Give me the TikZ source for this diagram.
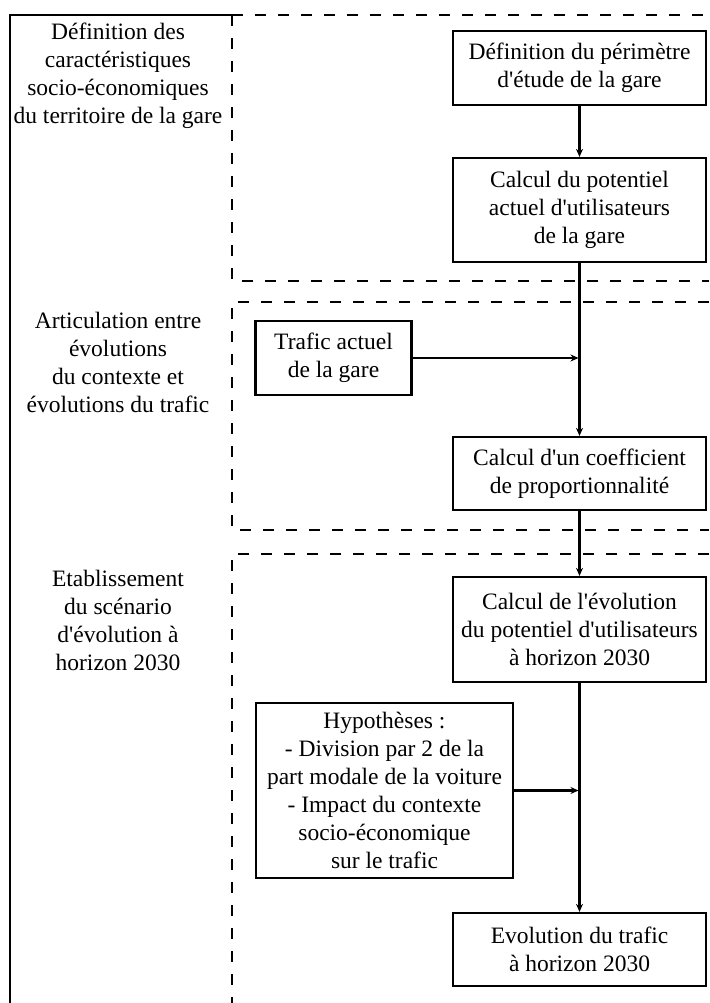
\documentclass[tikz,border=0pt]{standalone}
\usepackage{fontspec}
\setmainfont{Liberation Serif}[Ligatures=TeXOff]
\usetikzlibrary{arrows.meta,calc}
\begin{document}
\begin{tikzpicture}[x=1pt,y=-1pt,
  txt/.style={font=\fontsize{23.5}{28}\selectfont,align=center,inner sep=0pt},
  box/.style={txt,draw,line width=2.2pt,minimum width=253pt},
  frame/.style={line width=2.6pt},
  sep/.style={line width=2.6pt,dash pattern=on 11pt off 12pt},
  arr/.style={line width=2.2pt,-{Stealth[length=8pt,width=7pt]}}]
\useasboundingbox (0,0) rectangle (709,1003);
% frame
\draw[frame] (10,1003) -- (10,15) -- (232,15);
\draw[sep] (232,15) -- (709,15);
\draw[sep] (232,15) -- (232,281) -- (709,281);
\draw[sep] (709,302) -- (232,302) -- (232,530) -- (709,530);
\draw[sep] (709,554) -- (232,554) -- (232,1003);
% left labels
\node[txt] (l1) at (118,76) {Définition des\\caractéristiques\\socio-économiques\\du territoire de la gare};
\node[txt] (l2) at (118,362) {Articulation entre\\évolutions\\du contexte et\\évolutions du trafic};
\node[txt] (l3) at (118,620) {Etablissement\\du scénario\\d'évolution à\\horizon 2030};
% boxes
\node[box,minimum height=74pt] (b1) at (579.5,68) {Définition du périmètre\\d'étude de la gare};
\node[box,minimum height=104pt] (b2) at (579.5,210) {Calcul du potentiel\\actuel d'utilisateurs\\de la gare};
\node[box,minimum width=156pt,minimum height=74pt] (t) at (333.5,358) {Trafic actuel\\de la gare};
\node[box,minimum height=73pt] (b3) at (579.5,473.5) {Calcul d'un coefficient\\de proportionnalité};
\node[box,minimum height=105pt] (b4) at (579.5,629.5) {Calcul de l'évolution\\du potentiel d'utilisateurs\\à horizon 2030};
\node[box,minimum width=257pt,minimum height=175pt] (h) at (384.5,790.5) {Hypothèses :\\- Division par 2 de la\\part modale de la voiture\\- Impact du contexte\\socio-économique\\sur le trafic};
\node[box,minimum height=73pt] (b5) at (579.5,949.5) {Evolution du trafic\\à horizon 2030};
% connectors
\draw[arr] (b1) -- (b2);
\draw[arr] (b2) -- (b3);
\draw[arr] (b3) -- (b4);
\draw[arr] (b4) -- (b5);
\coordinate (tj) at (t.east -| b2.south);
\coordinate (hj) at (h.east -| b4.south);
\draw[arr] (t.east) -- ($(tj)+(-1,0)$);
\draw[arr] (h.east) -- ($(hj)+(-1,0)$);
\end{tikzpicture}
\end{document}
